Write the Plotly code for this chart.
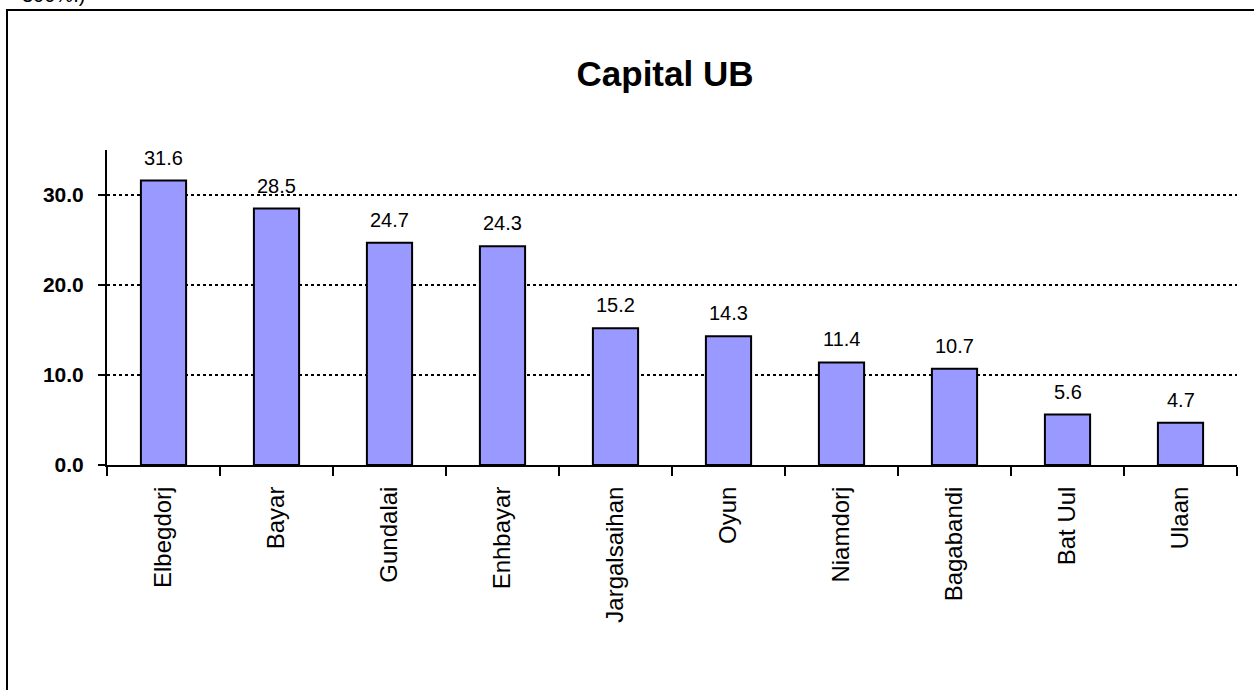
import plotly.graph_objects as go

candidates = ["Elbegdorj", "Bayar", "Gundalai", "Enhbayar", "Jargalsaihan",
              "Oyun", "Niamdorj", "Bagabandi", "Bat Uul", "Ulaan"]
values = [31.6, 28.5, 24.7, 24.3, 15.2, 14.3, 11.4, 10.7, 5.6, 4.7]
y_ticks = [0, 10, 20, 30]
y_tick_labels = ["0.0", "10.0", "20.0", "30.0"]
title_text = "Capital UB"
caption_text = "300%.)"

W, H = 1254, 690
L, R, T, B = 107, 17, 150, 225
pw, ph = W - L - R, H - T - B
FONT = "Arial, Liberation Sans, sans-serif"

fig = go.Figure()
fig.add_trace(go.Bar(
    x=candidates, y=values,
    width=0.40,
    marker=dict(color="#9999FF", line=dict(color="black", width=2)),
    hoverinfo="x+y",
))

# value labels above bars
for c, v in zip(candidates, values):
    fig.add_annotation(x=c, y=v, text=f"{v:.1f}", showarrow=False,
                       yanchor="bottom", yshift=10,
                       font=dict(family=FONT, size=20, color="black"))

fig.update_layout(
    width=W, height=H,
    margin=dict(l=L, r=R, t=T, b=B),
    paper_bgcolor="white", plot_bgcolor="white",
    showlegend=False,
    font=dict(family=FONT, color="black"),
    title=dict(text=f"<b>{title_text}</b>", x=665 / W, xanchor="center",
               y=1 - 74 / H, yanchor="middle",
               font=dict(size=35, family=FONT, color="black")),
)

fig.update_xaxes(
    type="category", tickangle=-90,
    tickfont=dict(size=24), showline=True, linecolor="black", linewidth=2,
    ticks="outside", tickson="boundaries", ticklen=9, tickwidth=2, tickcolor="black",
    ticklabelstandoff=10,
    showgrid=False, range=[-0.5, 9.5],
)
fig.update_yaxes(
    range=[0, 35], tickvals=y_ticks, ticktext=[f"<b>{t}</b>" for t in y_tick_labels],
    tickfont=dict(size=21), showline=True, linecolor="black", linewidth=2,
    ticks="outside", ticklen=7, tickwidth=2, tickcolor="black",
    ticklabelstandoff=10,
    showgrid=True, gridcolor="black", gridwidth=2, griddash="dot",
    zeroline=False,
)

# outer frame
fig.add_shape(type="rect", xref="paper", yref="paper",
              x0=(7 - L) / pw, x1=(W + 20 - L) / pw,
              y0=-(B + 20) / ph, y1=(H - B - 10) / ph,
              line=dict(color="black", width=2), fillcolor="rgba(0,0,0,0)", layer="below")

fig.add_annotation(text=caption_text, xref="paper", yref="paper",
                   x=(20 - L) / pw, y=(H - B + 5) / ph, xanchor="left", yanchor="middle",
                   showarrow=False, font=dict(size=20, color="black"))

fig.write_html("out.html", config={"displayModeBar": False},
               post_script="document.body.style.margin='0';")
